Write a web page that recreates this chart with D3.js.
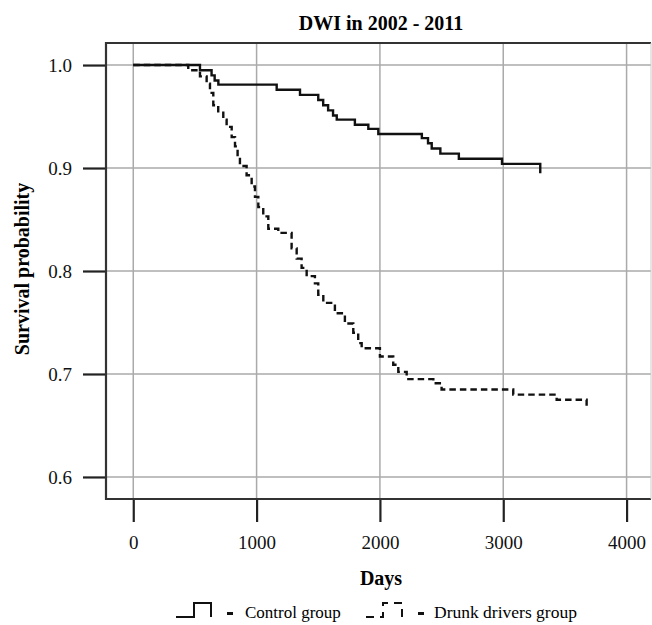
<!DOCTYPE html>
<html>
<head>
<meta charset="utf-8">
<script src="https://cdn.jsdelivr.net/npm/d3@7"></script>
<style>
	body { margin: 0; background: #fff; }
	svg { font-family: "Liberation Serif", "Times New Roman", serif; }
</style>
</head>
<body>
<svg id="km" width="652" height="625"></svg>
<script>
/* Data (days, survival probability) */
var days_ctrl = [0, 541, 635, 660, 690, 1163, 1352, 1500, 1540, 1580, 1620, 1650, 1797, 1906, 1987, 2340, 2390, 2420, 2490, 2640, 2990, 3300];
var surv_ctrl = [1.0, 0.995, 0.990, 0.985, 0.981, 0.976, 0.971, 0.966, 0.961, 0.956, 0.951, 0.947, 0.942, 0.938, 0.933, 0.929, 0.924, 0.919, 0.914, 0.909, 0.904, 0.895];

var days_dwi = [0, 446, 541, 595, 622, 649, 689, 730, 757, 798, 825, 846, 865, 919, 960, 987, 1014, 1054, 1095, 1176, 1284, 1325, 1365, 1406, 1473, 1500, 1541, 1635, 1716, 1784, 1824, 1852, 2000, 2108, 2149, 2217, 2433, 2500, 3081, 3433, 3676];
var surv_dwi = [1.0, 0.995, 0.989, 0.982, 0.973, 0.961, 0.955, 0.947, 0.940, 0.930, 0.921, 0.911, 0.902, 0.893, 0.882, 0.872, 0.862, 0.853, 0.841, 0.837, 0.822, 0.812, 0.803, 0.795, 0.788, 0.777, 0.769, 0.759, 0.749, 0.740, 0.730, 0.725, 0.717, 0.709, 0.702, 0.695, 0.691, 0.685, 0.680, 0.675, 0.669];

var x_ticks = [0, 1000, 2000, 3000, 4000];
var y_ticks = [0.6, 0.7, 0.8, 0.9, 1.0];
var legend_labels = ["Control group", "Drunk drivers group"];

var f_left = 106, f_right = 651, f_top = 43, f_bottom = 499;

var x = d3.scaleLinear().domain([-221, 4198]).range([f_left, f_right]);
var y = d3.scaleLinear().domain([0.5786, 1.0214]).range([f_bottom, f_top]);

var svg = d3.select("#km");

/* Grid */
function draw_grid(){
	svg.append("g").selectAll("line").data(x_ticks).enter().append("line")
		.attr("x1", function(d){ return x(d); })
		.attr("x2", function(d){ return x(d); })
		.attr("y1", f_top)
		.attr("y2", f_bottom)
		.attr("stroke", "#aaa")
		.attr("stroke-width", 1.5);
	svg.append("g").selectAll("line").data(y_ticks).enter().append("line")
		.attr("x1", f_left)
		.attr("x2", f_right)
		.attr("y1", function(d){ return y(d); })
		.attr("y2", function(d){ return y(d); })
		.attr("stroke", "#aaa")
		.attr("stroke-width", 1.5);
}

/* Axes and frame */
function draw_axes(){
	var ax = svg.append("g")
		.attr("transform", "translate(0," + f_bottom + ")")
		.call(d3.axisBottom(x).tickValues(x_ticks).tickFormat(d3.format("d")).tickSize(23).tickPadding(14));
	var ay = svg.append("g")
		.attr("transform", "translate(" + f_left + ",0)")
		.call(d3.axisLeft(y).tickValues(y_ticks).tickFormat(d3.format(".1f")).tickSize(23).tickPadding(11));

	[ax, ay].forEach(function(a){
		a.select(".domain").remove();
		a.selectAll("line").attr("stroke", "#222").attr("stroke-width", 2.2);
		a.selectAll("text").attr("font-size", 19).attr("fill", "#111")
			.style("font-family", "'Liberation Serif', serif");
	});

	svg.append("path")
		.attr("d", "M" + f_right + "," + f_top + "H" + f_left + "V" + f_bottom + "H" + f_right)
		.attr("fill", "none")
		.attr("stroke", "#333")
		.attr("stroke-width", 2.2);
	svg.append("line")
		.attr("x1", f_right).attr("x2", f_right)
		.attr("y1", f_top).attr("y2", f_bottom)
		.attr("stroke", "#ccc")
		.attr("stroke-width", 1);
}

/* Survival curves */
function draw_curve(days, surv, dash){
	var pts = days.map(function(d, i){ return [d, surv[i]]; });
	var line = d3.line()
		.x(function(p){ return x(p[0]); })
		.y(function(p){ return y(p[1]); })
		.curve(d3.curveStepAfter);
	svg.append("path")
		.datum(pts)
		.attr("d", line)
		.attr("fill", "none")
		.attr("stroke", "#111")
		.attr("stroke-width", 2.4)
		.attr("stroke-dasharray", dash);
}

function draw_labels(){
	svg.append("text")
		.attr("x", 381).attr("y", 30)
		.attr("text-anchor", "middle")
		.attr("font-weight", "bold")
		.attr("font-size", 20)
		.text("DWI in 2002 - 2011");
	svg.append("text")
		.attr("x", 381).attr("y", 585)
		.attr("text-anchor", "middle")
		.attr("font-weight", "bold")
		.attr("font-size", 20)
		.text("Days");
	svg.append("text")
		.attr("transform", "translate(29,269) rotate(-90)")
		.attr("text-anchor", "middle")
		.attr("font-weight", "bold")
		.attr("font-size", 20)
		.text("Survival probability");
}

function draw_legend(){
	var g = svg.append("g");
	var ly = 617;
	// solid step icon
	g.append("path")
		.attr("d", "M176," + ly + "H194V" + (ly - 14) + "H211V" + ly)
		.attr("fill", "none").attr("stroke", "#111").attr("stroke-width", 2);
	g.append("rect").attr("x", 227).attr("y", ly - 5).attr("width", 6).attr("height", 3).attr("fill", "#111");
	g.append("text").attr("x", 245).attr("y", ly + 1).attr("font-size", 17).text(legend_labels[0]);
	// dashed step icon
	g.append("path")
		.attr("d", "M366," + ly + "H383V" + (ly - 14) + "H402V" + ly)
		.attr("fill", "none").attr("stroke", "#111").attr("stroke-width", 2)
		.attr("stroke-dasharray", "8,6");
	g.append("rect").attr("x", 418).attr("y", ly - 5).attr("width", 6).attr("height", 3).attr("fill", "#111");
	g.append("text").attr("x", 434).attr("y", ly + 1).attr("font-size", 17.5).text(legend_labels[1]);
}

draw_grid();
draw_axes();
draw_curve(days_dwi, surv_dwi, "6.5,4");
draw_curve(days_ctrl, surv_ctrl, null);
draw_labels();
draw_legend();
</script>
</body>
</html>
